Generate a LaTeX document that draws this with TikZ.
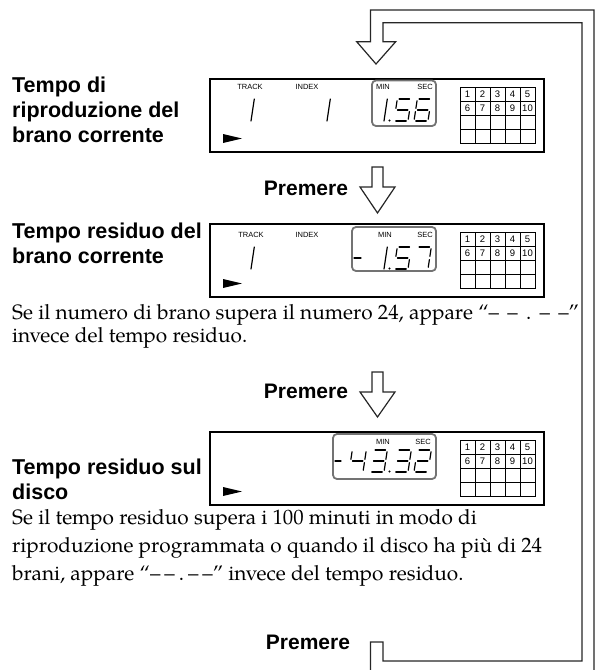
\documentclass[tikz,border=0pt]{standalone}
\usepackage{fontspec}
\setmainfont{TeX Gyre Pagella}
\setsansfont{Liberation Sans}
\usetikzlibrary{positioning}

% seven-segment pieces, local frame: bottom-left origin, y up
\newcommand\lcdsega{\draw[lcdseg] (1.8,22) -- (12.2,22);}
\newcommand\lcdsegb{\draw[lcdseg] (14,20.2) -- (14,12.6);}
\newcommand\lcdsegc{\draw[lcdseg] (14,9.4) -- (14,1.8);}
\newcommand\lcdsegd{\draw[lcdseg] (1.8,0) -- (12.2,0);}
\newcommand\lcdsege{\draw[lcdseg] (0,1.8) -- (0,9.4);}
\newcommand\lcdsegf{\draw[lcdseg] (0,12.6) -- (0,20.2);}
\newcommand\lcdsegg{\draw[lcdseg] (1.8,11) -- (12.2,11);}
\newcommand\lcdsegv{\draw[lcdseg] (14,0) -- (14,22);}
\newcommand\lcddigit[3]{%
  \begin{scope}[shift={(#1,#2)}, y=1pt, xslant=0.15]
    \foreach \s in {#3} {\csname lcdseg\s\endcsname}
  \end{scope}}

% panel: #1 = top edge, #2 = id
\newcommand\lcdpanel[2]{%
  \draw[lcdbox] (210,#1) rectangle (544,#1+73);
  \fill (223,#1+55) -- (223,#1+64) -- (242,#1+59.5) -- cycle;
  \foreach \i in {0,...,5} \draw[gridline] (460+15*\i,#1+8) -- ++(0,56.8);
  \foreach \j in {0,...,4} \draw[gridline] (460,#1+8+14.2*\j) -- ++(75,0);
  \foreach \n in {1,...,10} {
    \pgfmathtruncatemacro\col{mod(\n-1,5)}
    \pgfmathtruncatemacro\row{(\n-1)/5}
    \node[cellnum] (#2c\n) at (467.5+15*\col,#1+15.1+14.2*\row) {\n};
  }}

\tikzset{
  lcdbox/.style={draw, line width=1.8pt},
  timebox/.style={draw=black!55, line width=1.8pt, rounded corners=4pt},
  lcdseg/.style={line width=1.2pt, line cap=round},
  gridline/.style={line width=0.7pt},
  tiny/.style={font=\sffamily\fontsize{7.5}{8}\selectfont, inner sep=0pt},
  cellnum/.style={font=\sffamily\fontsize{9.5}{10}\selectfont, inner sep=0pt},
  hollow/.style={draw=black!85, line width=1.2pt, fill=white},
  modetext/.style={font=\sffamily\bfseries\fontsize{21.5}{25}\selectfont, align=left, anchor=north west, inner sep=0pt},
  note/.style={font=\fontsize{20.8}{23}\selectfont, align=left, anchor=north west, inner sep=0pt},
  press/.style={font=\sffamily\bfseries\fontsize{21}{24}\selectfont, inner sep=0pt, anchor=base}
}

\begin{document}
\begin{tikzpicture}[x=1pt, y=-1pt]
  \useasboundingbox (0,0) rectangle (597,670);

  % return loop
  \draw[hollow] (370.5,680) -- (370.5,642) -- (383,642) -- (383,661) -- (582,661)
    -- (582,22.7) -- (383,22.7) -- (383,41.7) -- (395.7,41.7) -- (376,64)
    -- (356.7,41.7) -- (370.5,41.7) -- (370.5,10) -- (594,10) -- (594,680);

  % mode labels
  \node[modetext] (lab1) at (12,76.3) {Tempo di\\riproduzione del\\brano corrente};
  \node[modetext] (lab2) at (12,222.3) {Tempo residuo del\\brano corrente};
  \node[modetext] (lab3) at (12,458.3) {Tempo residuo sul\\disco};

  % panel 1
  \lcdpanel{79}{a}
  \draw[timebox] (372,80.5) rectangle (436,126);
  \node[tiny] (atrack) at (250,87) {TRACK};
  \node[tiny] (aindex) at (307,87) {INDEX};
  \node[tiny] (amin) at (383,87) {MIN};
  \node[tiny] (asec) at (425,87) {SEC};
  \lcddigit{237}{121}{v}
  \lcddigit{313}{121}{v}
  \lcddigit{370}{121}{v}
  \fill (389.5,120.5) circle (1.1);
  \lcddigit{394}{121}{a,f,g,c,d}
  \lcddigit{414}{121}{a,f,g,e,c,d}

  % first press
  \node[press] (press1) at (306,195) {Premere};
  \draw[hollow] (372,167) -- (383,167) -- (383,187) -- (395,187) -- (377.5,213)
    -- (360,187) -- (372,187) -- cycle;

  % panel 2
  \lcdpanel{224}{b}
  \draw[timebox] (352,227) rectangle (436,271);
  \node[tiny] (btrack) at (251,235) {TRACK};
  \node[tiny] (bindex) at (307,235) {INDEX};
  \node[tiny] (bmin) at (385,235) {MIN};
  \node[tiny] (bsec) at (425,235) {SEC};
  \lcddigit{237}{269}{v}
  \draw[lcdseg] (354,258) -- (361,258);
  \lcddigit{370}{269}{v}
  \fill (389.5,268.5) circle (1.1);
  \lcddigit{394}{269}{a,f,g,c,d}
  \lcddigit{414}{269}{a,b,c}

  \node[note] (note1) at (12,303.8)
    {Se il numero di brano supera il numero 24, appare “–\hspace{0.4em}–\hspace{0.4em}.\hspace{0.4em}–\hspace{0.4em}–”\\invece del tempo residuo.};

  % second press
  \node[press] (press2) at (306,398) {Premere};
  \draw[hollow] (372,372) -- (383,372) -- (383,392) -- (395,392) -- (377.5,417)
    -- (360,392) -- (372,392) -- cycle;

  % panel 3
  \lcdpanel{432}{c}
  \draw[timebox] (333,434) rectangle (436,479);
  \node[tiny] (cmin) at (383,442) {MIN};
  \node[tiny] (csec) at (423,442) {SEC};
  \draw[lcdseg] (335,461) -- (341,461);
  \lcddigit{349}{472}{f,b,g,c}
  \lcddigit{370}{472}{a,b,g,c,d}
  \fill (389.5,471.5) circle (1.1);
  \lcddigit{394}{472}{a,b,g,c,d}
  \lcddigit{414}{472}{a,b,g,e,d}

  \node[note, font=\fontsize{20.8}{28}\selectfont] (note2) at (12,508.8)
    {Se il tempo residuo supera i 100 minuti in modo di\\riproduzione programmata o quando il disco ha più di 24\\brani, appare “–\kern4pt–\kern4pt.\kern4pt–\kern4pt–” invece del tempo residuo.};

  % last press
  \node[press] (press3) at (308,649) {Premere};
\end{tikzpicture}
\end{document}
